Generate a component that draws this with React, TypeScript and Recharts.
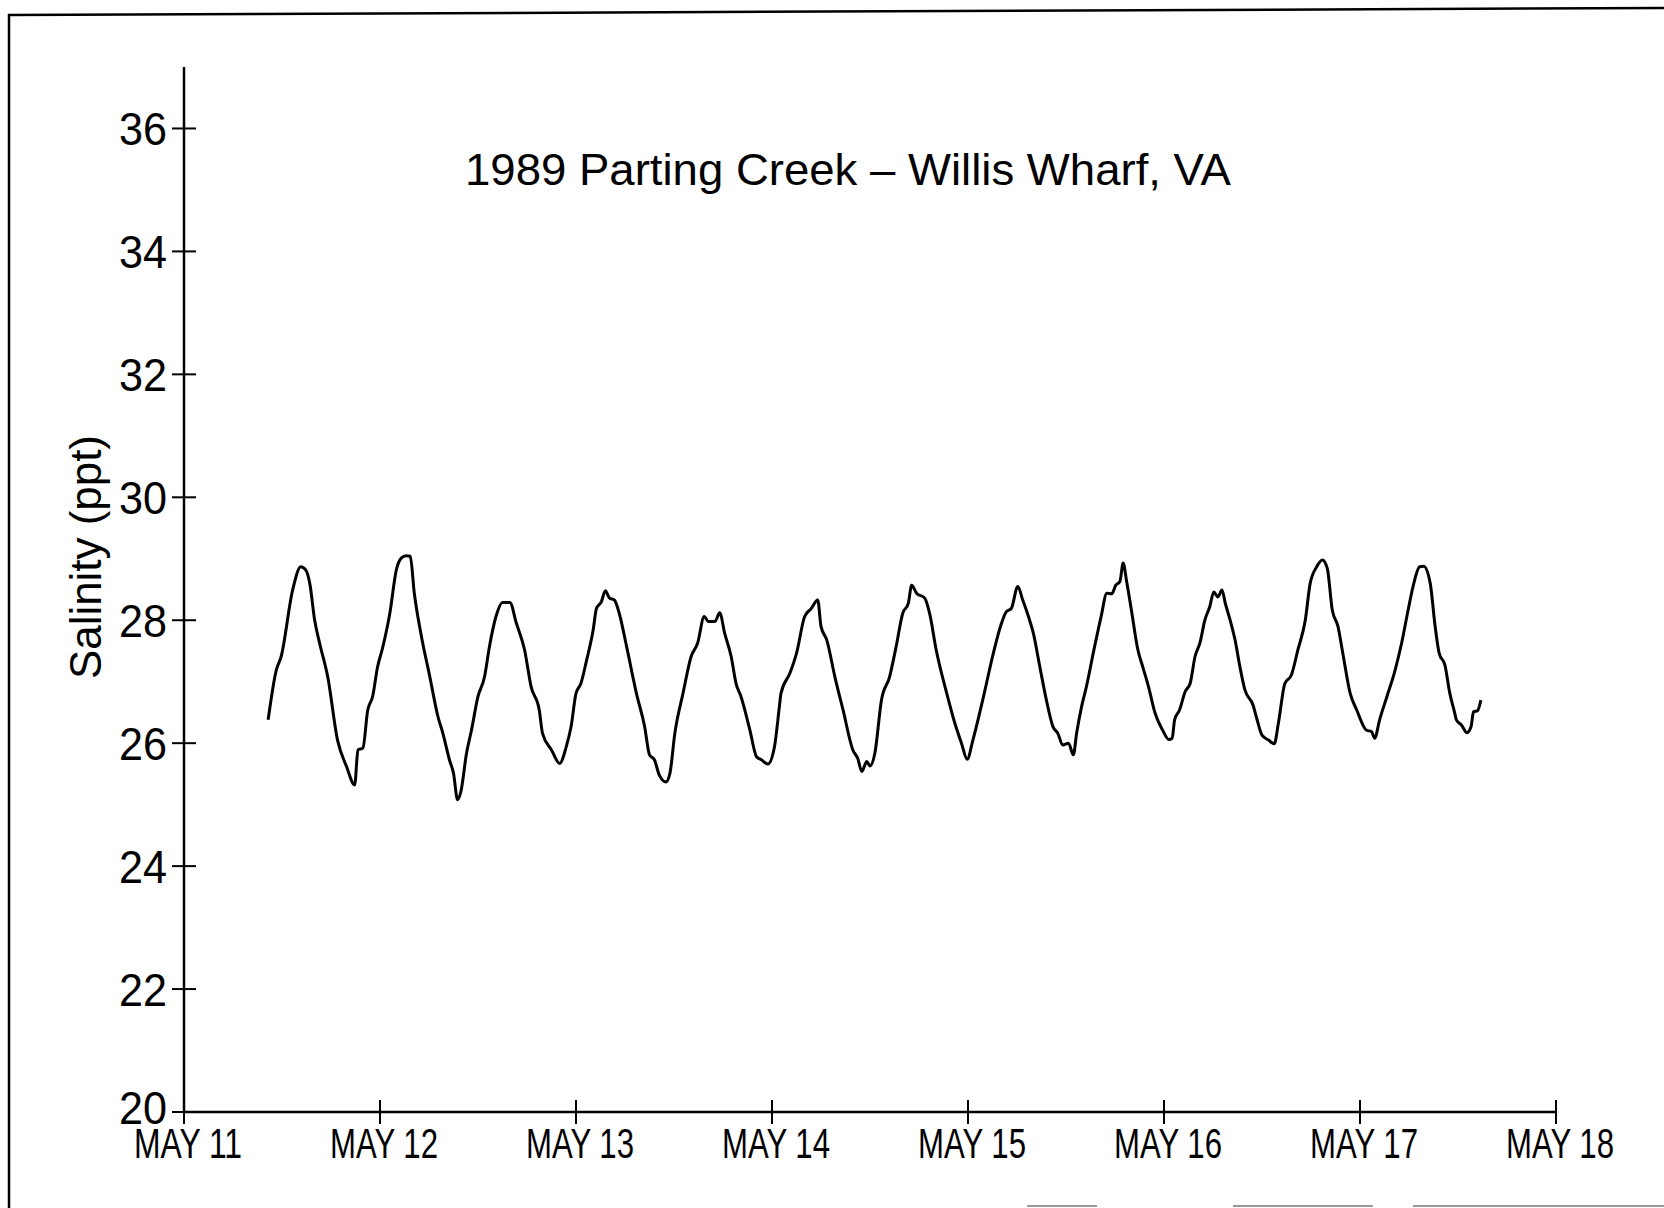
import { LineChart, Line, XAxis, YAxis } from "recharts"

// hours since May 11 00:00
const hours = [
  10.3, 11.3, 11.9, 13.3, 14.3, 14.9, 15.4, 16.0, 16.6, 17.6, 18.8, 19.9, 20.9, 21.3, 21.9, 22.5, 23.1, 23.7,
  24.3, 25.2, 26.0, 26.6, 27.2, 27.7, 28.2, 29.0, 30.1, 31.1, 31.7, 32.5, 33.0, 33.5, 33.9, 34.6, 35.2, 36.0,
  36.8, 37.4, 38.2, 39.0, 39.9, 40.7, 41.7, 42.5, 43.5, 43.9, 45.0, 46.0, 46.8, 47.4, 48.0, 48.6, 49.3, 50.1,
  50.5, 51.1, 51.6, 52.1, 52.7, 53.3, 54.2, 55.4, 56.4, 57.0, 57.6, 58.2, 59.0, 59.5, 60.1, 61.1, 62.1, 62.9,
  63.7, 64.2, 65.0, 65.6, 66.2, 67.0, 67.6, 68.2, 69.3, 70.1, 70.7, 71.5, 72.3, 72.9, 73.1, 74.2, 75.0, 76.0,
  76.8, 77.6, 78.0, 78.7, 79.7, 80.7, 81.9, 82.5, 83.0, 83.6, 84.0, 84.6, 85.4, 86.4, 87.2, 88.0, 88.7, 89.1,
  89.7, 90.7, 91.3, 92.1, 93.4, 94.4, 95.2, 95.9, 96.6, 97.8, 99.1, 100.1, 100.7, 101.3, 102.1, 102.7, 103.4,
  104.0, 104.8, 105.6, 106.4, 107.0, 107.6, 108.3, 108.9, 109.3, 109.9, 110.5, 111.5, 112.3, 113.0, 113.6,
  114.1, 114.6, 115.0, 115.4, 116.0, 116.8, 117.4, 118.1, 118.9, 119.8, 120.6, 121.0, 121.3, 121.9, 122.6,
  123.2, 123.8, 124.4, 125.0, 125.6, 126.1, 126.6, 127.1, 127.5, 128.1, 128.7, 129.3, 129.9, 130.9, 131.3,
  132.0, 132.8, 133.5, 134.0, 134.8, 135.6, 136.4, 137.3, 137.9, 138.7, 139.4, 140.0, 140.6, 141.3, 141.9,
  142.8, 143.6, 144.8, 145.4, 145.8, 146.4, 147.3, 148.3, 149.1, 149.9, 150.5, 151.3, 151.8, 152.6, 153.2,
  153.7, 154.4, 155.0, 155.6, 155.8, 156.4, 157.1, 157.6, 157.9, 158.4, 158.8,
]

// salinity in ppt
const salinity = [
  26.38, 27.19, 27.41, 28.49, 28.87, 28.82, 28.6, 28.0, 27.63, 27.08, 26.05, 25.62, 25.32, 25.89, 25.92, 26.54,
  26.76, 27.24, 27.54, 28.11, 28.82, 29.01, 29.05, 29.04, 28.44, 27.79, 27.08, 26.43, 26.16, 25.73, 25.51, 25.08,
  25.21, 25.84, 26.21, 26.76, 27.08, 27.57, 28.06, 28.29, 28.29, 27.95, 27.52, 26.92, 26.54, 26.16, 25.89, 25.67,
  25.94, 26.27, 26.81, 26.97, 27.35, 27.84, 28.19, 28.3, 28.48, 28.36, 28.33, 28.11, 27.57, 26.81, 26.27, 25.81,
  25.73, 25.48, 25.37, 25.51, 26.16, 26.81, 27.41, 27.63, 28.06, 27.98, 27.98, 28.12, 27.79, 27.41, 26.97, 26.76,
  26.21, 25.78, 25.73, 25.66, 25.94, 26.59, 26.81, 27.14, 27.46, 28.06, 28.19, 28.33, 27.9, 27.68, 27.08, 26.54,
  25.89, 25.75, 25.54, 25.7, 25.63, 25.84, 26.7, 27.08, 27.57, 28.11, 28.28, 28.57, 28.44, 28.36, 28.11, 27.52,
  26.81, 26.32, 26.0, 25.74, 26.05, 26.7, 27.46, 27.95, 28.14, 28.19, 28.55, 28.33, 28.06, 27.79, 27.24, 26.7,
  26.27, 26.16, 25.97, 26.0, 25.81, 26.16, 26.59, 26.92, 27.57, 28.06, 28.44, 28.43, 28.57, 28.63, 28.93, 28.65,
  28.17, 27.52, 27.24, 26.92, 26.49, 26.22, 26.06, 26.08, 26.38, 26.54, 26.84, 26.97, 27.41, 27.63, 28.0, 28.22,
  28.46, 28.38, 28.49, 28.28, 28.0, 27.68, 27.24, 26.87, 26.62, 26.43, 26.13, 26.05, 25.99, 26.32, 26.97, 27.11,
  27.52, 28.0, 28.6, 28.87, 28.98, 28.84, 28.17, 27.9, 27.46, 26.81, 26.54, 26.21, 26.19, 26.08, 26.38, 26.76,
  27.19, 27.63, 28.17, 28.55, 28.87, 28.88, 28.6, 27.9, 27.46, 27.27, 26.81, 26.49, 26.38, 26.3, 26.17, 26.27,
  26.51, 26.53, 26.7,
]

const dayTicks = [0, 24, 48, 72, 96, 120, 144, 168]
const dayLabels = ["MAY 11", "MAY 12", "MAY 13", "MAY 14", "MAY 15", "MAY 16", "MAY 17", "MAY 18"]
const salinityTicks = [20, 22, 24, 26, 28, 30, 32, 34, 36]

const chartTitle = "1989  Parting  Creek  \u2013  Willis  Wharf,  VA"
const yTitle = "Salinity  (ppt)"

const font = "'Liberation Sans', Arial, sans-serif"

const data = hours.map((h, i) => ({ h, s: salinity[i] }))

const XTick = (props: any) => {
  const { x, y, payload } = props
  const label = dayLabels[dayTicks.indexOf(payload.value)]
  return (
    <g>
      <line x1={x} x2={x} y1={y - 12} y2={y + 12} stroke="#000" strokeWidth={2} />
      <text
        x={x + 4}
        y={y + 46}
        textAnchor="middle"
        fontSize={43}
        fontFamily={font}
        textLength={108}
        lengthAdjust="spacingAndGlyphs"
        fill="#000"
      >
        {label}
      </text>
    </g>
  )
}

const YTick = (props: any) => {
  const { x, y, payload } = props
  // the bottom label sits a little higher, clear of the date labels
  const dy = payload.value === 20 ? 12 : 17
  return (
    <g>
      <line x1={x - 12} x2={x + 12} y1={y} y2={y} stroke="#000" strokeWidth={2} />
      <text
        x={x - 17}
        y={y + dy}
        textAnchor="end"
        fontSize={46}
        fontFamily={font}
        textLength={48}
        lengthAdjust="spacingAndGlyphs"
        fill="#000"
      >
        {payload.value}
      </text>
    </g>
  )
}

export default function App() {
  return (
    <div style={{ position: "absolute", left: 0, top: 0, width: 1664, height: 1208, background: "#fff" }}>
      <LineChart
        width={1664}
        height={1208}
        data={data}
        margin={{ top: 67, right: 108, bottom: 36, left: 64 }}
      >
        <XAxis
          dataKey="h"
          type="number"
          domain={[0, 168]}
          ticks={dayTicks}
          height={60}
          tickSize={0}
          tickMargin={0}
          tickLine={false}
          axisLine={{ stroke: "#000", strokeWidth: 2.5 }}
          tick={<XTick />}
          interval={0}
        />
        <YAxis
          type="number"
          domain={[20, 37]}
          ticks={salinityTicks}
          width={120}
          tickSize={0}
          tickMargin={0}
          tickLine={false}
          axisLine={{ stroke: "#000", strokeWidth: 2.5 }}
          tick={<YTick />}
          interval={0}
          allowDataOverflow
        />
        <Line
          type="monotone"
          dataKey="s"
          stroke="#000"
          strokeWidth={3}
          dot={false}
          isAnimationActive={false}
        />
      </LineChart>
      <svg
        width={1664}
        height={1208}
        style={{ position: "absolute", left: 0, top: 0, pointerEvents: "none" }}
      >
        <line x1={8} y1={15} x2={1664} y2={8} stroke="#000" strokeWidth={2.5} />
        <line x1={9} y1={14} x2={9} y2={1208} stroke="#000" strokeWidth={2.5} />
        <g stroke="#999" strokeWidth={2}>
          <line x1={1027} y1={1206} x2={1097} y2={1206} />
          <line x1={1233} y1={1206} x2={1373} y2={1206} />
          <line x1={1413} y1={1206} x2={1664} y2={1206} />
        </g>
        <text
          x={848}
          y={185}
          textAnchor="middle"
          fontSize={44}
          fontFamily={font}
          textLength={766}
          lengthAdjust="spacingAndGlyphs"
          fill="#000"
        >
          {chartTitle}
        </text>
        <text
          transform="translate(101,557) rotate(-90)"
          textAnchor="middle"
          fontSize={44}
          fontFamily={font}
          textLength={244}
          lengthAdjust="spacingAndGlyphs"
          fill="#000"
        >
          {yTitle}
        </text>
      </svg>
    </div>
  )
}
